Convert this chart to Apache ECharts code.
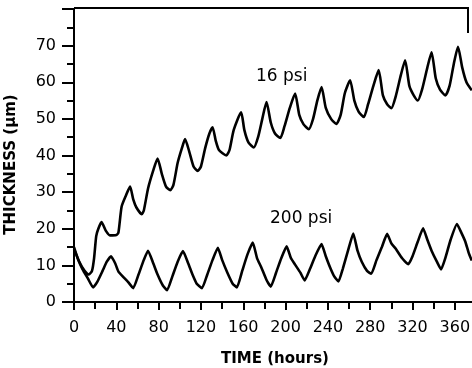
<!DOCTYPE html>
<html>
<head>
<meta charset="UTF-8">
<title>thickness</title>
<script src="https://cdn.jsdelivr.net/npm/echarts@6/dist/echarts.min.js"></script>
<style>
	html, body { margin: 0; padding: 0; background: #fff; }
	#chart-div { width: 472px; height: 368px; }
</style>
</head>
<body>
	<div id="chart-div"></div>

	<script type="text/javascript">
		// [hours, thickness um]
		var psi16_data = [
			[0,14.5],[5,11],[10,8.5],[14,7.5],[17,8.5],[19,12],[21,18],[23,20],[26,21.8],[30,19.5],
			[34,18.2],[40,18.3],[42,19],[45,26],[49,29],[53,31.5],[56,28],[59,25.8],[64,24],[66,25],
			[70,31],[75,36],[79,39.2],[83,35],[87,31.5],[91,30.5],[94,32],[98,38],[102,42],[105,44.5],
			[109,41],[113,37],[117,35.8],[120,37],[124,42],[128,46],[131,47.7],[134,44],[137,41.5],[144,40],
			[147,41.5],[151,47],[158,51.8],[161,47],[165,43.5],[170,42.2],[174,45],[178,50],[182,54.6],[186,49],
			[190,46],[195,44.8],[199,48],[204,53],[209,56.9],[213,51],[217,48.5],[222,47.2],[226,50],[230,55],
			[234,58.7],[238,53],[243,50],[248,48.6],[252,51],[256,57],[261,60.5],[265,55],[269,52],[274,50.5],
			[278,54],[283,59],[288,63.3],[292,56.4],[296,54],[300,52.9],[304,56],[309,62],[313,66],[317,59],
			[321,56.5],[325,55],[329,58],[334,64],[338,68.2],[342,61],[346,58],[351,56.4],[355,59],[359,65],
			[363,69.7],[367,64],[371,60],[376,57.8]
		];
		var psi200_data = [
			[0,15],[4,11.5],[8,9],[13,6.5],[18,4],[22,5.5],[27,8.5],[31,11],[35,12.5],[39,10.5],
			[42,8.3],[46,7],[51,5.5],[56,3.8],[61,7.5],[66,11.5],[70,14],[75,10.5],[79,7.5],[84,4.5],
			[88,3.2],[93,7],[98,11],[103,13.9],[108,10.5],[112,7.5],[116,5],[121,3.8],[126,7.5],[131,11.5],
			[136,14.8],[140,11.5],[145,8],[150,5],[154,4],[159,8.5],[164,13],[169,16.2],[173,12],[177,9.5],
			[182,6],[186,4.2],[191,8],[196,12],[201,15.2],[205,12],[209,10.2],[214,8],[218,5.9],[223,9],
			[228,12.5],[234,15.8],[238,12.5],[242,9.5],[246,7],[250,5.6],[254,9],[259,14],[264,18.7],[268,14],
			[272,11],[277,8.5],[281,7.7],[286,11.5],[291,15],[296,18.6],[300,16],[304,14.6],[310,12],[316,10.3],
			[320,12.5],[325,16.5],[330,20.1],[334,17],[338,14],[343,11],[347,8.9],[351,12],[356,17],[362,21.3],
			[366,19],[370,16.4],[373,13.5],[376,11.3]
		];
		var series_names = ['16 psi', '200 psi'];

		window.onload = drawChart;

		function drawChart(){
			var myChart = echarts.init(document.getElementById('chart-div'));
			var font = 'DejaVu Sans';

			var option = {
				animation: false,
				backgroundColor: '#fff',
				grid: { left: 74, right: -4, top: 9, bottom: 66, outerBoundsMode: 'none', containLabel: false },
				xAxis: {
					type: 'value',
					min: 0, max: 380, interval: 40,
					name: 'TIME (hours)',
					nameLocation: 'middle',
					nameGap: 50,
					nameTextStyle: { color: '#000', fontFamily: font, fontSize: 15, fontWeight: 'bold' },
					axisLine: { lineStyle: { color: '#000', width: 2 } },
					axisTick: { length: 8, lineStyle: { color: '#000', width: 2 } },
					minorTick: { show: true, splitNumber: 2, length: 7, lineStyle: { color: '#000', width: 2 } },
					axisLabel: {
						margin: 18, color: '#000', fontFamily: font, fontSize: 16,
						formatter: function(v){ return v % 40 === 0 && v <= 360 ? v : ''; }
					},
					splitLine: { show: false }
				},
				yAxis: {
					type: 'value',
					min: 0, max: 80, interval: 10,
					name: 'THICKNESS (\u03bcm)',
					nameLocation: 'middle',
					nameGap: 55,
					nameTextStyle: { color: '#000', fontFamily: font, fontSize: 15, fontWeight: 'bold', padding: [0, 18, 0, 0] },
					axisLine: { lineStyle: { color: '#000', width: 2 } },
					axisTick: { length: 12, lineStyle: { color: '#000', width: 2 } },
					minorTick: { show: true, splitNumber: 2, length: 7, lineStyle: { color: '#000', width: 2 } },
					axisLabel: {
						margin: 18, color: '#000', fontFamily: font, fontSize: 16,
						formatter: function(v){ return v < 80 ? v : ''; }
					},
					splitLine: { show: false }
				},
				graphic: [
					{ type: 'polyline', shape: { points: [[74, 8], [468, 8], [468, 33]] },
						style: { stroke: '#000', lineWidth: 2, fill: null } },
					{ type: 'text', left: 256, top: 68,
						style: { text: '16 psi', fill: '#000', font: '17px "DejaVu Sans"' } },
					{ type: 'text', left: 270, top: 210,
						style: { text: '200 psi', fill: '#000', font: '17px "DejaVu Sans"' } }
				],
				series: [
					{
						name: series_names[0],
						type: 'line',
						data: psi16_data,
						showSymbol: false,
						smooth: 0.2,
						lineStyle: { color: '#000', width: 2.6 }
					},
					{
						name: series_names[1],
						type: 'line',
						data: psi200_data,
						showSymbol: false,
						smooth: 0.15,
						lineStyle: { color: '#000', width: 2.6 }
					}
				]
			};

			myChart.setOption(option);
		}
	</script>
</body>
</html>
